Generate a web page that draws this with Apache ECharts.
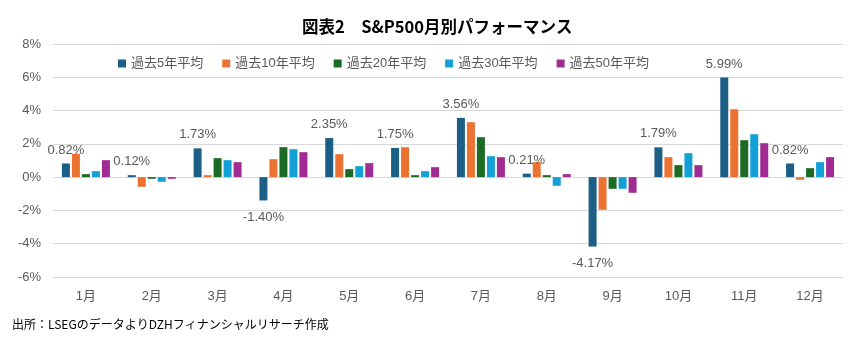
<!DOCTYPE html>
<html>
<head>
<meta charset="utf-8">
<script src="https://cdn.jsdelivr.net/npm/echarts@6/dist/echarts.min.js"></script>
<style>
  html, body { margin: 0; padding: 0; background: #ffffff; }
  #chart { width: 852px; height: 346px; }
</style>
</head>
<body>
<div id="chart"></div>
<script>
// Monthly average returns of the S&P 500 (%), by look-back period
const months = ['1月', '2月', '3月', '4月', '5月', '6月', '7月', '8月', '9月', '10月', '11月', '12月'];
const avg5y  = [0.82, 0.12, 1.73, -1.40, 2.35, 1.75, 3.56, 0.21, -4.17, 1.79, 5.99, 0.82];
const avg10y = [1.40, -0.58, 0.12, 1.08, 1.38, 1.80, 3.30, 0.90, -1.96, 1.20, 4.08, -0.16];
const avg20y = [0.18, -0.10, 1.14, 1.80, 0.48, 0.12, 2.40, 0.12, -0.70, 0.72, 2.22, 0.54];
const avg30y = [0.36, -0.28, 1.02, 1.68, 0.66, 0.36, 1.26, -0.52, -0.70, 1.44, 2.58, 0.90];
const avg50y = [1.02, -0.10, 0.90, 1.50, 0.84, 0.60, 1.20, 0.18, -0.94, 0.72, 2.04, 1.20];
const seriesNames = ['過去5年平均', '過去10年平均', '過去20年平均', '過去30年平均', '過去50年平均'];
const yTicks = { min: -6, max: 8, step: 2 };

const colors = ['#1b5e86', '#ec7232', '#1c6b25', '#13a0d7', '#a02b92'];
const textGray = '#595959';
const fontFam = '"Liberation Sans", "Noto Sans CJK JP", sans-serif';

// 5-year series carries value labels: above positive bars, below negative ones
const labelled5y = avg5y.map(v => ({
  value: v,
  label: v < 0 ? { position: 'bottom', distance: 10 } : { position: 'top', distance: 7 }
}));

const seriesData = [labelled5y, avg10y, avg20y, avg30y, avg50y];

const chart = echarts.init(document.getElementById('chart'), null, { renderer: 'canvas' });

chart.setOption({
  animation: false,
  backgroundColor: '#ffffff',
  color: colors,
  title: {
    text: '図表2\u3000S&P500月別パフォーマンス',
    left: 297,
    top: 13,
    textStyle: {
      fontFamily: '"Noto Sans CJK JP", sans-serif',
      fontWeight: 'bold',
      fontSize: 16.5,
      color: '#000000'
    }
  },
  legend: {
    left: 113,
    top: 52,
    itemWidth: 8,
    itemHeight: 8,
    itemGap: 19,
    icon: 'rect',
    textStyle: { fontFamily: fontFam, fontSize: 13, color: textGray },
    data: seriesNames
  },
  grid: { left: 53, right: 9, top: 44, bottom: 69 },
  xAxis: {
    type: 'category',
    data: months,
    axisLine: { show: false, onZero: false },
    axisTick: { show: false },
    axisLabel: { color: textGray, fontFamily: fontFam, fontSize: 13, margin: 13 }
  },
  yAxis: {
    type: 'value',
    min: yTicks.min,
    max: yTicks.max,
    interval: yTicks.step,
    axisLine: { show: false },
    axisTick: { show: false },
    splitLine: { lineStyle: { color: '#d9d9d9', width: 1 } },
    axisLabel: {
      color: textGray,
      fontFamily: fontFam,
      fontSize: 13,
      margin: 12,
      formatter: v => v + '%'
    }
  },
  series: seriesNames.map((name, i) => ({
    name: name,
    type: 'bar',
    data: seriesData[i],
    barWidth: 8,
    barGap: '25%',
    label: i === 0 ? {
      show: true,
      color: textGray,
      fontFamily: fontFam,
      fontSize: 13,
      formatter: p => p.value.toFixed(2) + '%'
    } : { show: false }
  })),
  graphic: [{
    type: 'text',
    left: 12,
    top: 318,
    style: {
      text: '出所：LSEGのデータよりDZHフィナンシャルリサーチ作成',
      fill: '#000000',
      font: '12px "Noto Sans CJK JP", sans-serif'
    }
  }]
});
</script>
</body>
</html>
